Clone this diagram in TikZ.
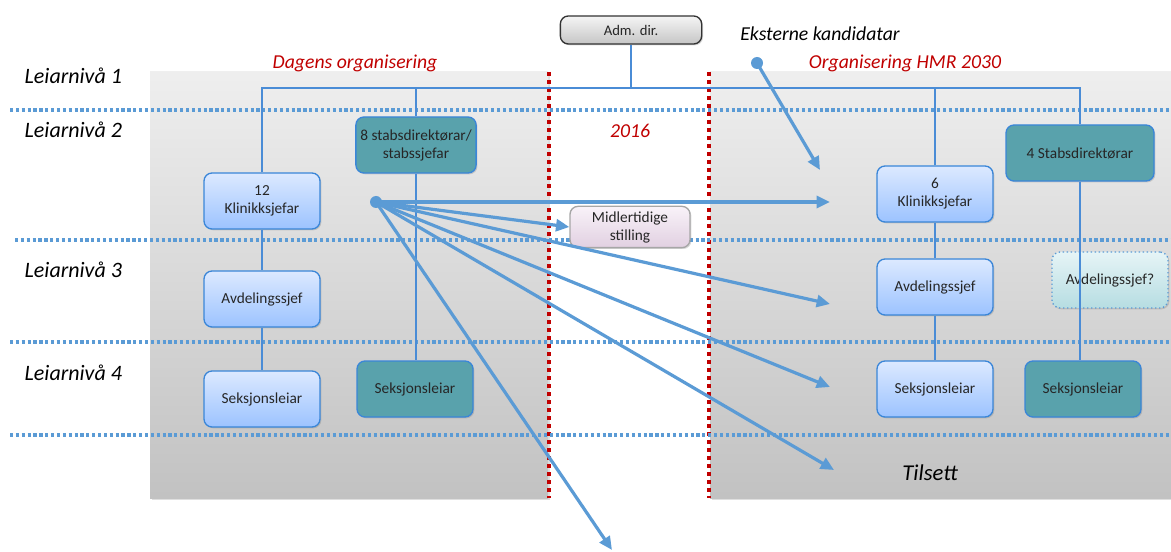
\documentclass[tikz,border=0pt]{standalone}
\usepackage{fontspec}
\setmainfont{Carlito}
\usetikzlibrary{arrows.meta,shadows}
\definecolor{lineblue}{HTML}{5B9BD5}
\definecolor{treeblue}{HTML}{4A8CD6}
\definecolor{dotred}{HTML}{C00000}
\definecolor{stabteal}{HTML}{59A2AC}
\definecolor{boxedge}{HTML}{3A86D8}
\definecolor{textred}{HTML}{C00000}
\definecolor{klintop}{HTML}{DCE9FF}
\definecolor{klinbot}{HTML}{9CC3FF}
\definecolor{maybetop}{HTML}{E6F4F6}
\definecolor{maybebot}{HTML}{B6DDE2}

\tikzset{
  panel/.style={top color=gray!13, bottom color=gray!48, draw=none,
    drop shadow={opacity=0.25, shadow xshift=1.5pt, shadow yshift=-1.5pt}},
  levelline/.style={lineblue, line width=2.6pt, dash pattern=on 2.4pt off 2pt},
  yearline/.style={dotred, line width=2.6pt, dash pattern=on 3pt off 3pt},
  tree/.style={treeblue, line width=0.9pt},
  orgbox/.style={rounded corners=6pt, draw=boxedge, line width=1pt, align=center,
    minimum width=87pt, minimum height=42pt, font=\fontsize{11.5}{13.5}\selectfont,
    text=black!85,
    drop shadow={opacity=0.3, shadow xshift=1pt, shadow yshift=-1pt}},
  klinbox/.style={orgbox, top color=klintop, bottom color=klinbot},
  stabbox/.style={orgbox, fill=stabteal},
  maybebox/.style={orgbox, draw=lineblue, dotted, top color=maybetop, bottom color=maybebot},
  tempbox/.style={orgbox, draw=gray!70, top color=violet!5!white, bottom color=violet!15!white!90!gray,
    minimum width=90pt, minimum height=31pt},
  admbox/.style={orgbox, draw=black!80, top color=gray!8, bottom color=gray!45,
    minimum width=106pt, minimum height=21pt, font=\fontsize{11}{13}\selectfont},
  move/.style={lineblue, line width=2.4pt, -{Triangle[width=9pt,length=10pt]}},
  levellabel/.style={anchor=west, font=\fontsize{16.5}{18}\selectfont\itshape},
  redlabel/.style={textred, font=\fontsize{14.8}{16}\selectfont\itshape},
  startdot/.style={circle, fill=lineblue, inner sep=0pt, minimum size=9pt}
}

\begin{document}
\begin{tikzpicture}[x=0.75pt,y=-0.75pt]
  \useasboundingbox (0,0) rectangle (1171,552);
  \path[panel] (150,72) rectangle (548,498);
  \path[panel] (710,72) rectangle (1171,498);
  \draw[yearline] (549,72) -- (549,498);
  \draw[yearline] (709,72) -- (709,498);
  \draw[levelline] (10,110) -- (1171,110);
  \draw[levelline] (15,240) -- (1171,240);
  \draw[levelline] (10,342) -- (1171,342);
  \draw[levelline] (10,435) -- (1171,435);

  \node[levellabel] (niva1) at (20,76) {Leiarnivå 1};
  \node[levellabel] (niva2) at (20,130) {Leiarnivå 2};
  \node[levellabel] (niva3) at (20,270) {Leiarnivå 3};
  \node[levellabel] (niva4) at (20,373) {Leiarnivå 4};
  \node[redlabel] (dagens) at (355,63) {Dagens organisering};
  \node[redlabel] (hmr) at (905,63) {Organisering HMR 2030};
  \node[redlabel] (aar) at (630,131) {2016};
  \node[font=\fontsize{14.8}{16}\selectfont\itshape] (ekstern) at (820,34) {Eksterne kandidatar};
  \node[font=\fontsize{17}{19}\selectfont\itshape] (tilsett) at (930,473) {Tilsett};

  \node[admbox] (adm) at (631,30) {Adm. dir.};
  \node[klinbox] (k12) at (262,201) {12\\Klinikksjefar};
  \node[klinbox] (avd1) at (262,299) {Avdelingssjef};
  \node[klinbox] (seks1) at (262,399) {Seksjonsleiar};
  \node[stabbox] (stab8) at (416,145) {8 stabsdirektørar/\\stabssjefar};
  \node[stabbox] (seks2) at (415,389) {Seksjonsleiar};
  \node[klinbox] (k6) at (935,194) {6\\Klinikksjefar};
  \node[klinbox] (avd2) at (935,287) {Avdelingssjef};
  \node[klinbox] (seks3) at (935,389) {Seksjonsleiar};
  \node[stabbox, minimum width=111pt] (stab4) at (1080,153) {4 Stabsdirektørar};
  \node[maybebox] (avd3) at (1110,280) {Avdelingssjef?};
  \node[stabbox] (seks4) at (1083,389) {Seksjonsleiar};
  \node[tempbox] (midl) at (630,227) {Midlertidige\\stilling};

  \coordinate (bus) at (631,88);
  \draw[tree] (adm.south) -- (bus);
  \draw[tree] (k12.north) |- (bus) -| (stab4.north);
  \draw[tree] (stab8.north) -- (stab8.north |- bus);
  \draw[tree] (k6.north) -- (k6.north |- bus);
  \draw[tree] (k12) -- (avd1) -- (seks1);
  \draw[tree] (stab8) -- (seks2.north -| stab8);
  \draw[tree] (k6) -- (avd2) -- (seks3);
  \draw[tree] (stab4.south) -- (stab4.south |- seks4.north);

  \node[startdot] (fra) at (376,202) {};
  \node[startdot] (ekstdot) at (757,63) {};
  \coordinate (til1) at (830,202);
  \coordinate (til2) at (830,304);
  \coordinate (til3) at (830,387);
  \coordinate (til4) at (834,470);
  \coordinate (ut) at (612,550);
  \coordinate (tilk) at (820,170);
  \draw[move] (fra.center) -- (til1);
  \draw[move] (fra.center) -- (midl.west);
  \draw[move] (fra.center) -- (til2);
  \draw[move] (fra.center) -- (til3);
  \draw[move] (fra.center) -- (til4);
  \draw[move] (fra.center) -- (ut);
  \draw[move] (ekstdot.center) -- (tilk);
\end{tikzpicture}
\end{document}
